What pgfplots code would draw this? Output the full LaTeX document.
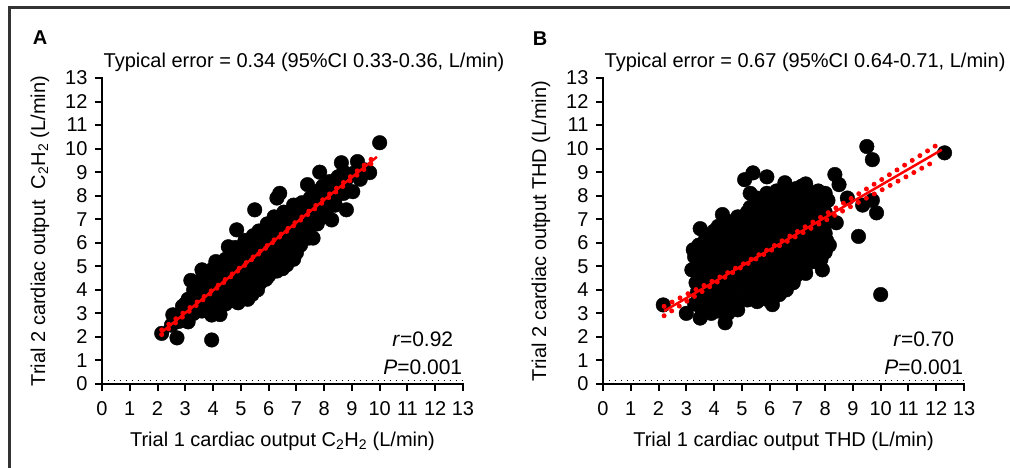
\documentclass[border=0pt]{standalone}
\usepackage{fontspec}
\setmainfont{Liberation Sans}
\usepackage{pgfplots}
\usepackage{pgfplotstable}
\pgfplotsset{compat=1.18}
\newcommand\fs{\fontsize{20}{24}\selectfont}

\pgfplotstableread{
x y
2.15 2.15
2.55 2.94
2.50 2.50
2.70 1.96
2.75 2.65
2.90 3.30
2.95 2.90
3.10 2.64
3.10 3.60
3.15 3.10
3.20 4.40
3.30 3.00
3.30 3.70
3.40 4.05
3.50 3.25
3.50 3.60
3.55 4.40
3.60 4.85
3.70 3.45
3.75 3.95
3.80 4.60
3.85 3.10
3.95 1.87
3.95 2.93
3.95 3.50
4.00 4.10
4.00 4.90
4.10 5.20
4.10 3.30
4.15 3.80
4.20 4.45
4.25 2.95
4.30 3.60
4.30 4.10
4.35 4.80
4.45 3.40
4.45 5.30
4.50 4.35
4.55 5.83
4.55 3.80
4.60 4.70
4.65 5.10
4.70 3.55
4.75 4.10
4.80 5.50
4.85 6.55
4.85 4.50
4.90 3.45
4.95 4.90
5.00 5.80
5.00 3.90
5.05 5.30
5.10 4.30
5.15 6.10
5.20 4.70
5.25 3.60
5.30 5.60
5.30 5.10
5.35 4.10
5.40 4.55
5.45 6.30
5.50 7.40
5.50 5.00
5.55 5.80
5.57 4.34
5.60 4.00
5.65 6.50
5.70 5.30
5.75 4.70
5.80 6.10
5.85 5.60
5.90 4.45
5.95 6.80
6.00 5.10
6.05 6.40
6.10 5.80
6.15 4.90
6.20 7.10
6.25 6.10
6.30 5.40
6.30 7.90
6.40 8.10
6.40 6.60
6.45 5.80
6.50 4.90
6.55 7.30
6.60 6.30
6.65 5.06
6.70 5.60
6.75 7.00
6.80 6.60
6.85 6.00
6.90 7.60
7.00 5.57
7.00 7.10
7.05 6.40
7.10 6.80
7.15 5.90
7.20 7.70
7.25 7.30
7.30 6.60
7.40 8.47
7.40 7.00
7.45 6.20
7.55 7.70
7.60 6.20
7.60 7.30
7.70 8.10
7.75 6.80
7.84 9.00
7.90 7.50
7.95 8.40
8.00 7.10
8.10 7.90
8.20 8.60
8.27 6.97
8.35 8.20
8.40 7.60
8.50 8.80
8.55 8.30
8.62 9.40
8.80 7.40
8.80 8.70
9.03 8.17
9.05 8.95
9.20 9.45
9.45 9.10
9.64 8.98
10.00 10.25
3.00 3.40
3.00 2.70
3.30 3.35
3.30 4.00
3.60 3.10
3.60 3.60
3.60 4.10
3.90 3.30
3.90 3.90
3.90 4.40
4.20 3.50
4.20 4.00
4.20 4.70
4.20 5.00
4.50 3.80
4.50 4.50
4.50 5.00
4.80 4.00
4.80 4.80
4.80 5.20
4.80 5.80
5.10 4.00
5.10 4.70
5.10 5.10
5.10 5.60
5.40 4.80
5.40 5.40
5.40 5.90
5.40 3.80
5.70 4.30
5.70 5.00
5.70 5.70
5.70 6.20
6.00 4.60
6.00 5.40
6.00 6.00
6.00 6.60
6.30 4.80
6.30 5.80
6.30 6.30
6.30 6.90
6.60 5.30
6.60 6.00
6.60 6.70
6.60 7.10
6.90 5.30
6.90 6.30
6.90 7.00
6.90 7.30
7.20 6.30
7.20 6.90
7.20 7.40
7.50 6.70
7.50 7.30
7.50 7.90
7.80 7.00
7.80 7.60
7.80 8.20
8.10 7.40
8.10 8.30
8.40 7.90
8.40 8.60
8.70 8.10
8.70 9.00
9.30 8.70
}\dataA

\pgfplotstableread{
x y
2.17 3.36
3.00 3.00
3.20 4.85
3.25 5.70
3.30 5.40
3.30 3.40
3.35 4.30
3.40 3.90
3.50 2.80
3.50 6.60
3.55 3.20
3.60 5.00
3.65 4.55
3.70 6.20
3.70 3.70
3.75 5.40
3.80 4.20
3.85 5.85
3.90 3.00
3.95 4.90
4.00 6.50
4.00 3.50
4.05 4.40
4.10 5.30
4.15 6.10
4.20 3.90
4.25 4.80
4.30 7.20
4.30 5.70
4.35 3.20
4.40 2.60
4.40 6.60
4.45 4.30
4.50 5.20
4.55 3.70
4.60 6.10
4.65 4.70
4.70 5.60
4.75 3.30
4.80 6.70
4.85 3.15
4.85 4.10
4.90 5.10
4.95 6.20
5.00 4.50
5.05 7.00
5.10 8.68
5.10 5.60
5.15 3.70
5.20 6.60
5.20 3.57
5.25 4.90
5.30 8.10
5.30 7.50
5.35 6.00
5.40 8.97
5.40 4.20
5.45 5.30
5.50 7.00
5.55 3.50
5.60 6.40
5.65 4.60
5.70 5.70
5.75 7.60
5.80 3.90
5.85 5.00
5.90 8.80
5.90 6.80
5.95 6.10
6.00 4.30
6.05 7.30
6.10 3.37
6.10 5.40
6.15 7.90
6.20 4.70
6.25 6.50
6.30 5.80
6.35 3.80
6.40 7.00
6.45 5.10
6.50 7.70
6.55 8.55
6.55 4.30
6.60 6.20
6.65 5.50
6.70 7.30
6.75 4.80
6.80 6.60
6.85 4.30
6.85 5.90
6.90 8.00
6.95 5.20
7.00 7.00
7.05 6.30
7.10 5.15
7.15 8.40
7.15 7.60
7.20 5.60
7.25 6.70
7.30 4.70
7.35 7.20
7.40 6.00
7.45 8.10
7.50 5.20
7.55 6.50
7.60 7.60
7.65 5.60
7.70 7.00
7.75 8.20
7.80 6.20
7.85 5.30
7.90 4.85
7.90 7.40
7.95 6.70
8.05 6.10
8.10 7.80
8.15 5.90
8.15 7.00
8.35 8.90
8.40 6.85
8.50 8.47
8.80 7.90
9.20 6.27
9.35 7.60
9.50 10.09
9.70 9.53
9.70 7.80
9.85 7.27
10.00 3.80
12.30 9.82
3.45 3.50
3.45 4.10
3.45 4.70
3.45 5.30
3.45 5.90
3.80 3.30
3.80 3.90
3.80 4.50
3.80 5.10
3.80 5.70
3.80 6.30
4.15 3.10
4.15 3.70
4.15 4.30
4.15 4.90
4.15 5.50
4.15 6.30
4.15 6.70
4.50 3.00
4.50 3.50
4.50 4.00
4.50 4.60
4.50 5.50
4.50 5.90
4.50 6.40
4.50 6.90
4.85 3.50
4.85 4.40
4.85 4.80
4.85 5.40
4.85 5.80
4.85 6.40
4.85 7.10
5.20 3.90
5.20 4.40
5.20 5.20
5.20 5.80
5.20 6.30
5.20 7.00
5.20 7.30
5.55 3.80
5.55 4.30
5.55 4.90
5.55 5.50
5.55 6.00
5.55 6.70
5.55 7.30
5.55 7.90
5.90 3.60
5.90 4.60
5.90 5.30
5.90 5.80
5.90 6.40
5.90 7.00
5.90 7.60
5.90 8.10
6.25 4.00
6.25 4.50
6.25 5.10
6.25 5.50
6.25 6.00
6.25 6.90
6.25 7.40
6.25 8.20
6.60 4.00
6.60 4.60
6.60 5.00
6.60 5.80
6.60 6.40
6.60 6.90
6.60 7.50
6.60 8.10
6.95 4.60
6.95 5.60
6.95 6.10
6.95 6.70
6.95 7.30
6.95 7.70
6.95 8.30
7.30 5.00
7.30 5.40
7.30 5.90
7.30 6.40
7.30 7.00
7.30 7.60
7.30 7.90
7.30 8.50
7.65 5.20
7.65 5.90
7.65 6.40
7.65 6.80
7.65 7.30
7.65 7.90
8.00 5.60
8.00 6.40
8.00 7.30
8.00 7.70
8.00 8.10
}\dataB

\pgfplotsset{panel/.style={
  scale only axis, width=361pt, height=306pt,
  xmin=0, xmax=13, ymin=0, ymax=13,
  xtick={0,...,13}, ytick={0,...,13},
  axis lines=left,
  axis line style={-, line width=2.4pt, black},
  tick align=outside,
  major tick length=7pt,
  tick style={draw=black, line width=2pt},
  tick label style={font=\fs},
  xticklabel style={yshift=-7pt},
  yticklabel style={xshift=-4pt},
  /pgf/number format/assume math mode=true,
  label style={font=\fs},
  xlabel style={at={(axis description cs:0.5,-0.188)}, anchor=center},
  ylabel style={at={(axis description cs:-0.172,0.5)}, anchor=center, rotate=0},
  clip=false, clip marker paths=true,
}}
\newcommand\axisframe{%
\addplot[black, line width=2.4pt, no marks, line cap=rect] coordinates {(0,13) (0,0) (13,0)};
\addplot[only marks, mark=|, mark size=3.5pt, mark options={line width=2pt, yshift=-3.5pt, draw=black}] coordinates {(0,0) (1,0) (2,0) (3,0) (4,0) (5,0) (6,0) (7,0) (8,0) (9,0) (10,0) (11,0) (12,0) (13,0)};
\addplot[only marks, mark=-, mark size=3.5pt, mark options={line width=2pt, xshift=-3.5pt, draw=black}] coordinates {(0,0) (0,1) (0,2) (0,3) (0,4) (0,5) (0,6) (0,7) (0,8) (0,9) (0,10) (0,11) (0,12) (0,13)};
\addplot[black, line width=1.3pt, dash pattern=on 1.3pt off 4.7pt, no marks] coordinates {(0.2,0.14) (13,0.14)};
}

\begin{document}
\begin{tikzpicture}[x=1pt,y=1pt]
\useasboundingbox (0,0) rectangle (1010,468);
\draw[line width=3pt, black!80] (9,0) -- (9,460) -- (1010,460);

\begin{axis}[panel, at={(102pt,84pt)}, anchor=south west,
  xlabel={Trial 1 cardiac output C\textsubscript{2}H\textsubscript{2} (L/min)},
  ylabel={Trial 2 cardiac output\ \ C\textsubscript{2}H\textsubscript{2} (L/min)}]
\axisframe
\addplot[only marks, mark=*, mark size=7.3pt, mark options={fill=black, draw=black}] table[x=x,y=y] {\dataA};
\addplot[red, line width=2.5pt, no marks] coordinates {(2.15,2.20) (9.90,9.65)};
\addplot[red, line width=5pt, line cap=round, dash pattern=on 0pt off 9pt, no marks] coordinates {(2.15,2.30) (4,4.02) (6,5.93) (8,7.88) (9.9,9.75)};
\addplot[red, line width=5pt, line cap=round, dash pattern=on 0pt off 9pt, no marks] coordinates {(2.15,2.10) (4,3.94) (6,5.87) (8,7.76) (9.9,9.55)};
\node[anchor=west, font=\fs] at (axis description cs:-0.005,1.05) {Typical error = 0.34 (95\%CI 0.33-0.36, L/min)};
\node[font={\fontsize{21}{28}\selectfont}, align=center] at (axis cs:11.55,1.3) {\textit{r}=0.92\\\textit{P}=0.001};
\end{axis}

\begin{axis}[panel, at={(603pt,84pt)}, anchor=south west,
  xlabel={Trial 1 cardiac output THD (L/min)},
  ylabel={Trial 2 cardiac output THD (L/min)}]
\axisframe
\addplot[only marks, mark=*, mark size=7.3pt, mark options={fill=black, draw=black}] table[x=x,y=y] {\dataB};
\addplot[red, line width=2.5pt, no marks] coordinates {(2.2,3.10) (12.2,9.95)};
\addplot[red, line width=5pt, line cap=round, dash pattern=on 0pt off 9pt, no marks] coordinates {(2.2,3.30) (3,3.80) (4,4.41) (5,5.07) (6,5.76) (7,6.48) (8,7.20) (9,7.93) (10,8.66) (11,9.40) (12.2,10.28)};
\addplot[red, line width=5pt, line cap=round, dash pattern=on 0pt off 9pt, no marks] coordinates {(2.2,2.90) (3,3.50) (4,4.25) (5,4.97) (6,5.64) (7,6.30) (8,6.94) (9,7.59) (10,8.22) (11,8.86) (12.0,9.50)};
\node[anchor=west, font=\fs] at (axis description cs:-0.005,1.05) {Typical error = 0.67 (95\%CI 0.64-0.71, L/min)};
\node[font={\fontsize{21}{28}\selectfont}, align=center] at (axis cs:11.55,1.3) {\textit{r}=0.70\\\textit{P}=0.001};
\end{axis}

\node[font=\fs\bfseries] at (40,430) {A};
\node[font=\fs\bfseries] at (540,429) {B};
\end{tikzpicture}
\end{document}
